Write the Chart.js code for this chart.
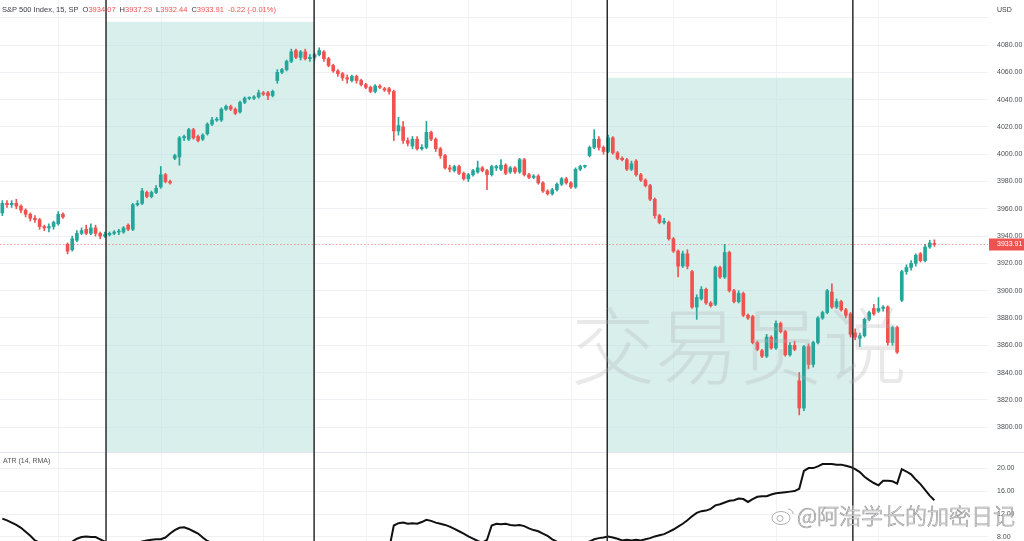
<!DOCTYPE html>
<html><head><meta charset="utf-8">
<script src="https://cdn.jsdelivr.net/npm/chart.js@4.4.1/dist/chart.umd.min.js"></script>
<style>
html,body{margin:0;padding:0;background:#fff;}
body{width:1024px;height:541px;overflow:hidden;position:relative;font-family:"Liberation Sans",Arial,sans-serif;}
canvas{position:absolute;left:0;}
#c1{top:0;} #c2{top:452px;}
.t{position:absolute;white-space:nowrap;line-height:1;}
#hdr{left:2px;top:6px;font-size:7.5px;color:#3a3d45;}
#hdr .r{color:#ef5350;}
#hdr span{margin-right:4px;}
#usd{left:997px;top:6px;font-size:7px;color:#3a3d45;}
#atrlbl{left:3px;top:457px;font-size:7px;color:#555;}
#wm{left:571px;top:300px;font-size:84px;font-family:"Noto Sans CJK SC",sans-serif;font-weight:300;color:rgba(175,175,175,0.28);letter-spacing:0px;}
#wm2{left:797px;top:503px;font-size:22px;font-family:"Noto Sans CJK SC",sans-serif;font-weight:300;color:rgba(255,255,255,0.9);-webkit-text-stroke:0.7px #9a9a9a;}
#logo{position:absolute;left:770px;top:506px;}
</style></head>
<body>
<canvas id="c1" width="1024" height="452"></canvas>
<canvas id="c2" width="1024" height="89"></canvas>
<div class="t" id="hdr"><span>S&amp;P 500 Index, 15, SP</span><span>O<b class="r" style="font-weight:normal">3934.07</b></span><span>H<b class="r" style="font-weight:normal">3937.29</b></span><span>L<b class="r" style="font-weight:normal">3932.44</b></span><span>C<b class="r" style="font-weight:normal">3933.91</b></span><span class="r">-0.22 (-0.01%)</span></div>
<div class="t" id="usd">USD</div>
<div class="t" id="atrlbl">ATR (14, RMA)</div>
<div class="t" id="wm">交易员说</div>
<svg id="logo" width="26" height="20" viewBox="0 0 26 20"><ellipse cx="11" cy="12" rx="9" ry="6.5" fill="rgba(255,255,255,0.9)" stroke="#9a9a9a" stroke-width="0.8"/><circle cx="10" cy="12.5" r="3" fill="none" stroke="#9a9a9a" stroke-width="0.8"/><path d="M18 3 a5 5 0 0 1 5 5" fill="none" stroke="#9a9a9a" stroke-width="0.8"/></svg>
<div class="t" id="wm2">@阿浩学长的加密日记</div>
<script>
// ---- Price candles (15m S&P 500) ----
const open = [
3957,3964,3963,3964,3962,3959,3956,3953,3952,3947,3946,3947,3949,3956,3934,3930,3937,3942,3945,3942,3946,3942,3940,
3941,3942,3943,3943,3948,3945,3963,3964,3972,3969,3972,3976,3985,3980,3997,3998,4012,4011,4018,4013,4011,4015,4022,4025,4025,4033,4035,4033,4031,4038,4041,4041,4042,4045,4045,4043,4054,4060,4062,4068,4076,4071,4075,4070,
4071,4073,4075,4070,4065,4061,4059,4056,4054,4057,4054,4051,4049,4046,4050,4048,4048,4046,4017,4020,4010,4006,4011,4004,4005,4016,4011,4004,3999,3990,3988,3991,3986,3982,3985,3987,3990,3988,3985,3990,3989,3992,3987,3990,3987,3996,3985,3983,3984,3979,3973,3971,3974,3978,3982,3979,3976,3989,3991,3999,4005,4011,4005,
4002,4012,4001,3997,3996,3989,3995,3985,3981,3977,3967,3955,3950,3950,3938,3929,3918,3927,3914,3888,3894,3901,3891,3890,3917,3910,3928,3900,3892,3898,3882,3881,3862,3856,3852,3866,3858,3876,3870,3853,3860,3834,3814,3859,3846,3862,3880,3884,3899,3888,3892,3886,3883,
3869,3865,3867,3879,3887,3885,3887,3888,3862,3873,3893,3914,3917,3920,3927,3922,3932,3934.07];
const high = [
3966,3966,3966,3967,3963,3960,3957,3955,3953,3948,3949,3951,3958,3957,3935,3940,3944,3946,3948,3949,3948,3943,3943,
3943,3944,3945,3947,3949,3964,3966,3975,3973,3973,3977,3991,3986,3981,4000,4013,4014,4019,4019,4014,4015,4023,4027,4027,4034,4036,4036,4034,4039,4042,4042,4043,4047,4046,4046,4047,4062,4063,4069,4077,4077,4076,4077,4073,
4074,4078,4076,4071,4066,4062,4060,4058,4058,4058,4055,4052,4050,4051,4051,4049,4049,4047,4027,4024,4012,4013,4013,4007,4024,4017,4012,4005,4000,3992,3992,3992,3987,3986,3989,3995,3991,3989,3992,3992,3996,3993,3991,3991,3997,3997,3986,3985,3985,3980,3974,3975,3979,3983,3983,3980,3990,3992,3992,4006,4018,4013,4006,
4014,4013,4002,3998,3997,3995,3996,3986,3982,3978,3968,3956,3953,3951,3939,3930,3929,3930,3915,3897,3903,3902,3892,3918,3918,3934,3929,3901,3900,3899,3883,3882,3863,3857,3868,3867,3878,3877,3871,3862,3863,3840,3860,3861,3863,3881,3885,3901,3905,3894,3893,3887,3884,
3872,3869,3880,3885,3890,3895,3889,3889,3874,3874,3915,3919,3922,3927,3928,3934,3937,3937.29];
const low = [
3955,3961,3961,3960,3957,3954,3951,3950,3945,3944,3943,3945,3948,3953,3927,3929,3936,3941,3941,3941,3940,3938,3939,
3940,3941,3941,3942,3944,3944,3962,3963,3968,3968,3971,3975,3979,3978,3996,3992,4010,4010,4011,4009,4010,4014,4021,4024,4024,4032,4032,4029,4030,4037,4040,4040,4041,4043,4040,4042,4052,4059,4061,4067,4070,4069,4069,4068,
4069,4072,4068,4064,4060,4057,4054,4052,4053,4052,4050,4048,4045,4045,4048,4046,4044,4010,4014,4008,4006,4004,4003,4003,4004,4010,4002,3997,3989,3987,3987,3985,3981,3980,3984,3986,3987,3974,3984,3988,3988,3985,3986,3986,3986,3984,3982,3982,3978,3972,3970,3970,3973,3977,3978,3975,3975,3988,3990,3998,4004,4003,4000,
4001,4000,3996,3995,3988,3988,3984,3980,3976,3966,3953,3949,3949,3937,3928,3910,3917,3916,3887,3879,3893,3890,3888,3889,3909,3909,3899,3891,3891,3881,3879,3861,3856,3851,3851,3857,3857,3869,3852,3852,3856,3809,3812,3843,3844,3861,3879,3883,3887,3887,3885,3880,3866,
3864,3859,3866,3878,3882,3884,3885,3860,3860,3854,3892,3912,3915,3918,3921,3921,3931,3932.44];
const close = [
3964,3963,3964,3962,3959,3956,3953,3952,3947,3946,3947,3950,3956,3954,3929,3938,3942,3944,3942,3946,3942,3940,3941,
3942,3943,3943,3946,3945,3963,3964,3973,3969,3972,3975,3985,3980,3979,3999,4012,4013,4018,4012,4010,4014,4022,4025,4025,4033,4035,4033,4030,4038,4041,4041,4042,4045,4044,4043,4046,4060,4062,4068,4075,4071,4075,4070,4071,
4073,4076,4070,4065,4061,4059,4056,4055,4057,4054,4051,4049,4046,4050,4049,4047,4046,4017,4021,4010,4008,4011,4004,4005,4016,4011,4004,3999,3990,3989,3991,3986,3982,3985,3988,3990,3988,3985,3991,3991,3992,3986,3990,3987,3996,3985,3983,3984,3979,3973,3971,3974,3978,3982,3979,3976,3989,3991,3991,4005,4011,4005,4002,
4012,4001,3997,3996,3989,3993,3985,3981,3977,3967,3955,3950,3951,3938,3929,3918,3927,3918,3888,3895,3901,3891,3889,3917,3910,3928,3900,3892,3898,3882,3880,3862,3857,3852,3866,3858,3876,3870,3853,3860,3857,3814,3859,3846,3862,3880,3884,3900,3888,3892,3886,3882,3868,
3866,3867,3879,3884,3883,3887,3888,3862,3873,3855,3914,3917,3920,3926,3922,3932,3935,3933.91];
// ---- ATR (14, RMA) ----
const atr = [
11.2,10.9,10.5,10.1,9.6,8.9,8.2,7.4,7.0,6.8,6.6,6.5,6.5,6.6,6.9,7.2,7.7,8.0,8.1,8.0,8.0,7.6,7.2,
6.9,6.7,6.6,6.5,6.6,6.8,7.0,
7.2,7.4,7.5,7.6,7.6,7.9,8.6,9.2,9.6,9.7,9.4,9.0,8.6,7.9,7.3,
6.9,6.6,6.4,6.2,6.0,5.9,5.8,5.7,5.6,5.6,5.5,5.5,5.5,5.6,6.1,6.0,6.1,6.3,6.4,6.3,6.2,6.1,6.0,6.0,5.9,5.9,5.8,5.8,5.7,5.7,5.6,5.6,5.6,5.5,5.6,5.6,5.7,5.8,5.9,
10.0,10.4,10.5,10.3,10.4,10.3,10.6,11.0,10.8,10.5,10.3,10.1,9.8,9.4,9.0,8.6,8.1,7.7,7.3,7.0,7.5,
10.0,10.3,10.2,10.3,10.1,10.0,10.1,9.9,9.5,9.2,9.0,8.6,8.2,7.6,7.2,
6.9,6.7,6.6,6.8,6.9,7.0,
7.2,7.6,7.8,7.9,8.1,7.9,7.7,7.4,7.5,7.4,7.5,7.4,7.6,7.8,8.1,8.3,8.5,8.9,9.3,9.8,10.3,10.9,11.6,12.2,12.5,12.6,12.9,13.5,13.7,14.0,14.3,14.4,14.7,14.6,14.1,14.6,15.0,15.1,15.1,15.4,15.6,15.7,15.8,15.9,16.0,16.4,19.5,20.0,20.0,20.3,20.7,20.7,20.7,20.6,20.6,20.4,20.2,19.8,19.3,18.5,17.9,17.4,17.0,17.8,17.8,17.7,17.3,19.8,19.4,18.9,18.0,17.2,16.2,15.2,14.4];
// ---- annotations (bar-index / price units) ----
const slotCount = 212;                    // includes empty right margin slots
const splitLines = [22.25, 66.9, 129.8, 182.5];
const zones = [{from:22.25,to:66.9,top:4097},{from:129.8,to:182.5,top:4056}];
const vGrid = [12,34,56,78,100,122,144,166,188];
const lastPrice = 3933.91;
const priceMin = 3781.8, priceMax = 4113, priceStep = 20;
const atrMin = 7.3, atrMax = 22.8, atrStep = 4;

const labels = Array.from({length: slotCount}, (_, i) => String(i));
const UP = '#26a69a', DN = '#ef5350';
const colors = close.map((c, i) => c >= open[i] ? UP : DN);

function fixAxis(width){
  return function(s){ s.width = width; s.paddingTop = 0; s.paddingBottom = 0; };
}
const tickFont = {family:'"Liberation Sans", Arial, sans-serif', size:7};

const mainPlugin = {
  id:'mainOverlay',
  beforeDatasetsDraw(chart){
    const {ctx, chartArea:a, scales:{x,y}} = chart;
    ctx.save();
    ctx.strokeStyle = '#f0f2f6'; ctx.lineWidth = 1;
    vGrid.forEach(v => { const px = Math.round(x.getPixelForValue(v)) + 0.5; ctx.beginPath(); ctx.moveTo(px, a.top); ctx.lineTo(px, a.bottom); ctx.stroke(); });
    ctx.fillStyle = 'rgba(178,223,218,0.5)';
    zones.forEach(z => { const x0 = x.getPixelForValue(z.from), x1 = x.getPixelForValue(z.to), yt = y.getPixelForValue(z.top); ctx.fillRect(x0, yt, x1 - x0, a.bottom - yt); });
    ctx.restore();
  },
  afterDatasetsDraw(chart){
    const {ctx, chartArea:a, scales:{x,y}} = chart;
    ctx.save();
    const py = Math.round(y.getPixelForValue(lastPrice)) + 0.5;
    ctx.strokeStyle = 'rgba(239,83,80,0.55)'; ctx.lineWidth = 1; ctx.setLineDash([1.5,2]);
    ctx.beginPath(); ctx.moveTo(a.left, py); ctx.lineTo(a.right, py); ctx.stroke();
    ctx.setLineDash([]);
    ctx.strokeStyle = '#2b2b2b'; ctx.lineWidth = 1.5;
    splitLines.forEach(v => { const px = x.getPixelForValue(v); ctx.beginPath(); ctx.moveTo(px, 0); ctx.lineTo(px, chart.height); ctx.stroke(); });
    ctx.fillStyle = '#ef5350';
    ctx.fillRect(a.right + 1, py - 6, 35, 12);
    ctx.fillStyle = '#fff'; ctx.font = '7px "Liberation Sans", Arial, sans-serif'; ctx.textBaseline = 'middle'; ctx.textAlign = 'left';
    ctx.fillText(lastPrice.toFixed(2), a.right + 9, py);
    ctx.restore();
  }
};

new Chart(document.getElementById('c1'), {
  type:'bar',
  data:{
    labels,
    datasets:[
      {data: low.map((l, i) => [l, high[i]]), backgroundColor: colors, barThickness: 1, grouped:false, order:2},
      {data: open.map((o, i) => [o, close[i]]), backgroundColor: colors, barThickness: 3, minBarLength: 1, grouped:false, order:1}
    ]
  },
  options:{
    responsive:false, animation:false, devicePixelRatio:1,
    layout:{padding:0},
    plugins:{legend:{display:false}, tooltip:{enabled:false}},
    scales:{
      x:{display:false, offset:true},
      y:{position:'right', min:priceMin, max:priceMax,
         grid:{color:'#eef0f4', drawTicks:false}, border:{display:false},
         ticks:{stepSize:priceStep, includeBounds:false, padding:9, color:'#4a4d55', font:tickFont,
                callback:v => v > 4090 ? '' : Number(v).toFixed(2)},
         afterFit: fixAxis(36)}
    }
  },
  plugins:[mainPlugin]
});

const atrPlugin = {
  id:'atrOverlay',
  beforeDatasetsDraw(chart){
    const {ctx, chartArea:a, scales:{x}} = chart;
    ctx.save();
    ctx.strokeStyle = '#f0f2f6'; ctx.lineWidth = 1;
    vGrid.forEach(v => { const px = Math.round(x.getPixelForValue(v)) + 0.5; ctx.beginPath(); ctx.moveTo(px, a.top); ctx.lineTo(px, a.bottom); ctx.stroke(); });
    ctx.strokeStyle = '#e3e6ec';
    ctx.beginPath(); ctx.moveTo(0, 0.5); ctx.lineTo(chart.width, 0.5); ctx.stroke();
    ctx.restore();
  },
  afterDatasetsDraw(chart){
    const {ctx, scales:{x}} = chart;
    ctx.save();
    ctx.strokeStyle = '#2b2b2b'; ctx.lineWidth = 1.5;
    splitLines.forEach(v => { const px = x.getPixelForValue(v); ctx.beginPath(); ctx.moveTo(px, 0); ctx.lineTo(px, chart.height); ctx.stroke(); });
    ctx.restore();
  }
};

new Chart(document.getElementById('c2'), {
  type:'line',
  data:{labels, datasets:[{data: atr, borderColor:'#111', borderWidth:2, pointRadius:0, tension:0, fill:false}]},
  options:{
    responsive:false, animation:false, devicePixelRatio:1,
    layout:{padding:0},
    plugins:{legend:{display:false}, tooltip:{enabled:false}},
    scales:{
      x:{display:false, offset:true},
      y:{position:'right', min:atrMin, max:atrMax,
         grid:{color:'#eef0f4', drawTicks:false}, border:{display:false},
         ticks:{stepSize:atrStep, includeBounds:false, padding:9, color:'#4a4d55', font:tickFont,
                callback:v => Number(v).toFixed(2)},
         afterFit: fixAxis(36)}
    }
  },
  plugins:[atrPlugin]
});
</script>
</body></html>
